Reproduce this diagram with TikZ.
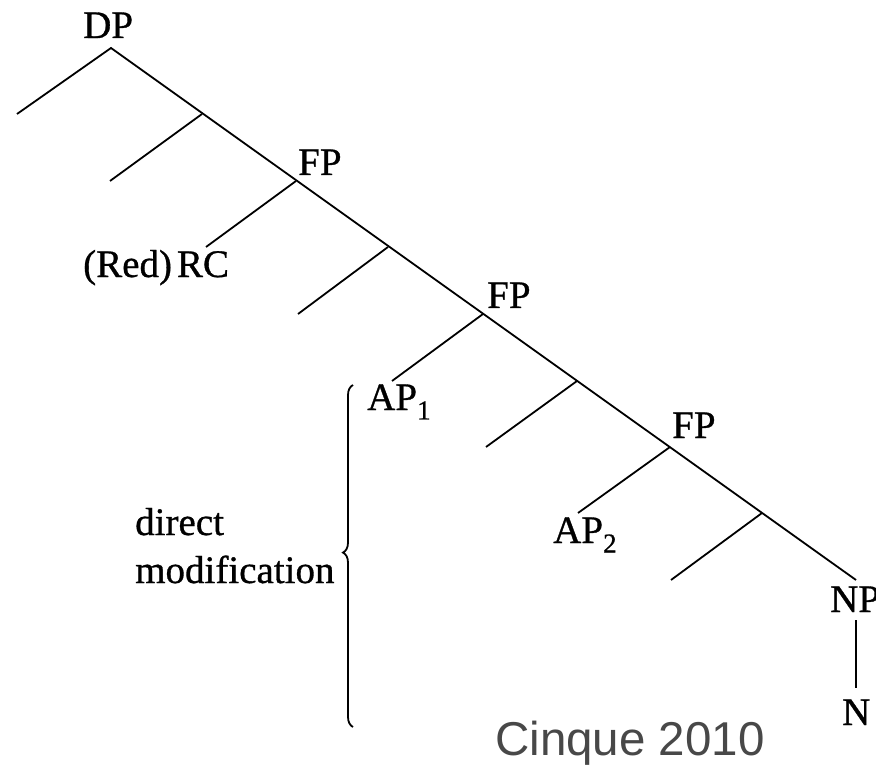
\documentclass[tikz,border=0pt]{standalone}
\usepackage{fontspec}
\setmainfont[FakeBold=0.8]{Liberation Serif}
\newfontfamily\capfont{Liberation Sans}
\usetikzlibrary{decorations.pathreplacing}
\definecolor{capgray}{RGB}{72,72,72}
\begin{document}
\begin{tikzpicture}[x=1pt,y=-1pt,
  branch/.style={line width=1.8pt},
  lbl/.style={anchor=base west, inner sep=0pt, font=\fontsize{39}{47}\selectfont}]
\useasboundingbox (0,0) rectangle (876,770);
% branch points
\coordinate (dp) at (111,48);
\coordinate (dpL) at (17,114);
\coordinate (b1) at (202,114);
\coordinate (b1L) at (110,181);
\coordinate (fp1) at (296,181);
\coordinate (rcE) at (206,247);
\coordinate (b2) at (388,247);
\coordinate (b2L) at (298,314);
\coordinate (fp2) at (483,314);
\coordinate (ap1E) at (392,381);
\coordinate (b3) at (577,381);
\coordinate (b3L) at (486,447);
\coordinate (fp3) at (670,447);
\coordinate (ap2E) at (578,513);
\coordinate (b4) at (762,513);
\coordinate (b4L) at (671,580);
\coordinate (npE) at (856,580);
\coordinate (npB) at (856,620);
\coordinate (nT) at (856,688);
% labels
\node[lbl] (DP) at (83,38) {DP};
\node[lbl] (FP1) at (298,175) {FP};
\node[lbl] (FP2) at (487,308) {FP};
\node[lbl] (FP3) at (672,438) {FP};
\node[lbl] (RC) at (83,277) {(Red)\hspace{5pt}RC};
\node[lbl] (AP1) at (367,410) {AP\textsubscript{1}};
\node[lbl] (AP2) at (553,543) {AP\textsubscript{2}};
\node[lbl] (NP) at (830,612) {NP};
\node[lbl] (N) at (842,725) {N};
\node[lbl] (dm1) at (135,535) {direct};
\node[lbl] (dm2) at (135,583) {modification};
\node[anchor=base west, inner sep=0pt, text=capgray,
      font=\capfont\fontsize{47.5}{56}\selectfont] (cap) at (495,755)
      {Cinque 2010};
% tree
\draw[branch] (dpL) -- (dp) -- (npE);
\draw[branch] (b1) -- (b1L);
\draw[branch] (fp1) -- (rcE);
\draw[branch] (b2) -- (b2L);
\draw[branch] (fp2) -- (ap1E);
\draw[branch] (b3) -- (b3L);
\draw[branch] (fp3) -- (ap2E);
\draw[branch] (b4) -- (b4L);
\draw[branch] (npB) -- (nT);
% brace
\coordinate (brB) at (353,727);
\coordinate (brT) at (353,385);
\draw[line width=1.8pt, decorate, decoration={brace, amplitude=10pt, aspect=0.51}] (brB) -- (brT);
\end{tikzpicture}
\end{document}
